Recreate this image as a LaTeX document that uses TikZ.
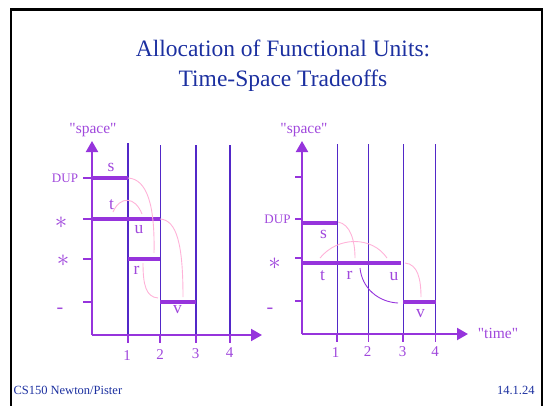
\documentclass[tikz,border=0pt]{standalone}
\usepackage{fontspec}
\setmainfont{Liberation Serif}
\usetikzlibrary{arrows.meta}
\definecolor{titleblue}{RGB}{28,48,160}
\definecolor{axispurple}{RGB}{150,52,220}
\definecolor{gridblue}{RGB}{82,40,200}
\definecolor{labelpurple}{RGB}{160,72,220}
\definecolor{linkpink}{RGB}{255,178,216}
\begin{document}
\begin{tikzpicture}[x=1pt,y=-1pt,line width=1pt,
  every node/.style={inner sep=0pt,text=labelpurple},
  axis/.style={axispurple,line width=2pt,-{Triangle[length=11pt,width=12pt]}},
  tick/.style={axispurple,line width=1.2pt},
  unitline/.style={gridblue,line width=2.2pt},
  thinline/.style={gridblue,line width=.9pt},
  opbar/.style={axispurple,line width=4pt},
  link/.style={linkpink,line width=.9pt},
  oplabel/.style={font=\fontsize{17.5}{19}\selectfont},
  numlabel/.style={font=\fontsize{15}{17}\selectfont},
  kindlabel/.style={font=\fontsize{13}{15}\selectfont},
  mulsign/.style={font=\fontsize{23}{25}\selectfont},
  subsign/.style={anchor=base,font=\fontsize{20}{22}\selectfont}]
  \path[use as bounding box] (0,0) rectangle (544,405);
  \draw[line width=2.5pt] (11,406)--(11,9.5)--(542,9.5)--(542,406);
  \node[anchor=base,text=titleblue,font=\fontsize{23.5}{28}\selectfont] (title1) at (283,56.3) {Allocation of Functional Units:};
  \node[anchor=base,text=titleblue,font=\fontsize{23.5}{28}\selectfont] (title2) at (283,86.5) {Time-Space Tradeoffs};
  \node[anchor=base west,text=titleblue,font=\fontsize{12.5}{14}\selectfont] (foot1) at (13,394.3) {CS150 Newton/Pister};
  \node[anchor=base east,text=titleblue,font=\fontsize{12.5}{14}\selectfont] (foot2) at (535,394.3) {14.1.24};
  % left chart: fewer units, more steps
  \coordinate (LO) at (92,335);
  \coordinate (LY) at (92,141);
  \coordinate (LX) at (262,335);
  \draw[unitline] (128,143)--(128,335);
  \draw[thinline] (160,145)--(160,335);
  \draw[unitline] (196,145)--(196,335);
  \draw[unitline] (230,145)--(230,335);
  \foreach \t in {128,160,196,230} \draw[tick] (\t,335)--(\t,343);
  \foreach \s in {178,219,259,302} \draw[tick] (83,\s)--(92,\s);
  \coordinate (Ls0) at (92,178);   \coordinate (Ls1) at (128,178);
  \coordinate (Lt0) at (92,219);   \coordinate (Lt1) at (160,219);
  \coordinate (Lr0) at (128,259);  \coordinate (Lr1) at (160,259);
  \coordinate (Lv0) at (160,302);  \coordinate (Lv1) at (196,302);
  \draw[opbar] (Ls0)--(Ls1);
  \draw[opbar] (Lt0)--(Lt1);
  \draw[opbar] (Lr0)--(Lr1);
  \draw[opbar] (Lv0)--(Lv1);
  \draw[link] (Ls1) .. controls (147,179) and (155,205) .. (154,253);
  \draw[link] (113,212) .. controls (120,196) and (135,196) .. (142,214);
  \draw[link] (Lt1) .. controls (177,220) and (183,245) .. (183,297);
  \draw[link] (143,263) .. controls (143,285) and (146,297) .. (158,298);
  \draw[axis] (LO)--(LY);
  \draw[axis] (LO)--(LX);
  \node[oplabel] (Lls) at (111,167) {s};
  \node[oplabel] (Llt) at (111.5,205) {t};
  \node[oplabel] (Llu) at (139,230) {u};
  \node[oplabel] (Llr) at (136.5,270.5) {r};
  \node[oplabel] (Llv) at (177.5,310) {v};
  \node[kindlabel] (Lk1) at (65,178) {DUP};
  \node[mulsign] (Lk2) at (61,223) {$\ast$};
  \node[mulsign] (Lk3) at (63,261) {$\ast$};
  \node[subsign] (Lk4) at (60,313.5) {-};
  \node[numlabel] (Ln1) at (127,355.5) {1};
  \node[numlabel] (Ln2) at (160,355) {2};
  \node[numlabel] (Ln3) at (195.5,353.5) {3};
  \node[numlabel] (Ln4) at (229.5,353) {4};
  \node[font=\fontsize{15.5}{17}\selectfont] (Lspace) at (93,130) {\textquotedbl space\textquotedbl};
  % right chart: more units, fewer steps
  \coordinate (RO) at (302,334);
  \coordinate (RY) at (302,141);
  \coordinate (RX) at (468,334);
  \draw[thinline] (337,144)--(337,334);
  \draw[thinline] (368.5,144)--(368.5,334);
  \draw[thinline] (403,144)--(403,334);
  \draw[thinline] (435.5,144)--(435.5,334);
  \foreach \t in {337,368.5,403,435.5} \draw[tick] (\t,334)--(\t,342);
  \foreach \s in {177,219,258,301} \draw[tick] (295,\s)--(302,\s);
  \coordinate (Rs0) at (302,222.5);  \coordinate (Rs1) at (337,222.5);
  \coordinate (Rt0) at (302,262.5);  \coordinate (Rt1) at (401,262.5);
  \coordinate (Rv0) at (403,301.5);  \coordinate (Rv1) at (435.5,301.5);
  \draw[opbar] (Rs0)--(Rs1);
  \draw[opbar] (Rt0)--(Rt1);
  \draw[opbar] (Rv0)--(Rv1);
  \draw[link] (338,222) .. controls (350,224) and (355,240) .. (355,258);
  \draw[link] (320,258) .. controls (338,236) and (372,236) .. (387,258);
  \draw[link] (405,263) .. controls (418,264) and (421,280) .. (421,297);
  \draw[axispurple,line width=.9pt] (360,268) .. controls (362,288) and (378,302) .. (398,303);
  \draw[axis] (RO)--(RY);
  \draw[axis] (RO)--(RX);
  \node[oplabel] (Rls) at (323.5,234) {s};
  \node[oplabel] (Rlt) at (322.5,276) {t};
  \node[oplabel] (Rlr) at (349.5,275) {r};
  \node[oplabel] (Rlu) at (394,277) {u};
  \node[oplabel] (Rlv) at (420.5,314) {v};
  \node[kindlabel] (Rk1) at (277.5,219) {DUP};
  \node[mulsign] (Rk2) at (274.5,263.5) {$\ast$};
  \node[subsign] (Rk3) at (270,313.5) {-};
  \node[numlabel] (Rn1) at (335.5,353) {1};
  \node[numlabel] (Rn2) at (367.5,352) {2};
  \node[numlabel] (Rn3) at (402.5,352) {3};
  \node[numlabel] (Rn4) at (435,352) {4};
  \node[font=\fontsize{15.5}{17}\selectfont] (Rspace) at (304,130) {\textquotedbl space\textquotedbl};
  \node[font=\fontsize{15.5}{17}\selectfont] (Rtime) at (498,333) {\textquotedbl time\textquotedbl};
\end{tikzpicture}
\end{document}
